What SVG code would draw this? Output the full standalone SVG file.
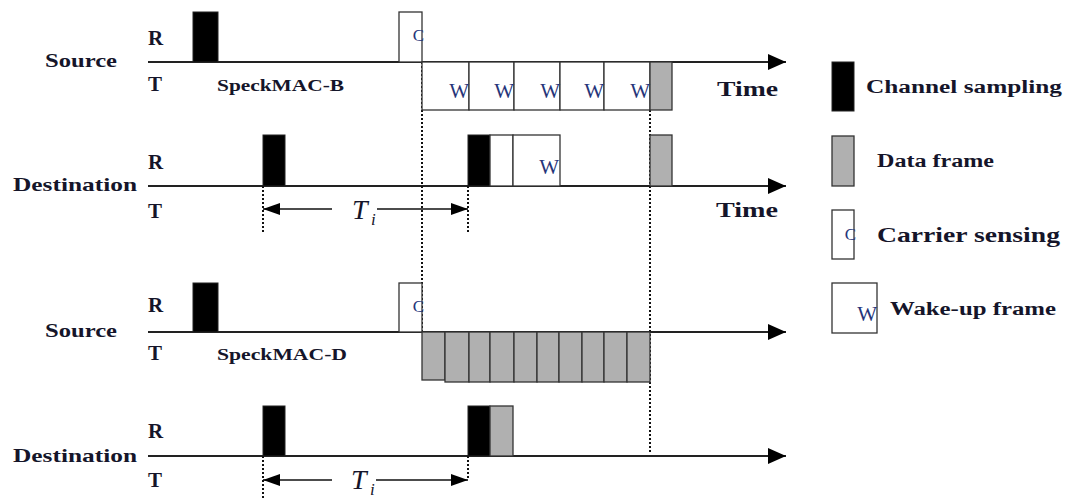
<svg xmlns="http://www.w3.org/2000/svg" width="1070" height="498" viewBox="0 0 1070 498">
<defs>
<style>
.lbl{font-family:"Liberation Serif","DejaVu Serif",serif;font-weight:bold;fill:#15152a}
.side{font-size:19px}
.rt{font-size:21px}
.mac{font-size:16px}
.time{font-size:21px}
.leg{font-size:18px}
.w{font-family:"Liberation Serif","DejaVu Serif",serif;font-size:21px;fill:#26357a;text-anchor:end}
.c{font-family:"Liberation Serif","DejaVu Serif",serif;font-size:17px;fill:#26357a;text-anchor:end}
.ti{font-family:"Liberation Serif","DejaVu Serif",serif;font-style:italic;fill:#15152a}
.axis{stroke:#222;stroke-width:1.8;fill:none}
.blk{fill:#000;stroke:#222;stroke-width:1}
.gry{fill:#b0b0b0;stroke:#333;stroke-width:1.3}
.wht{fill:#fff;stroke:#333;stroke-width:1.3}
.dot{stroke:#111;stroke-width:2;stroke-dasharray:2 2;fill:none}
.dim{stroke:#111;stroke-width:1.5;fill:none}
</style>
<marker id="ax" viewBox="0 0 18 16" refX="18" refY="8" markerWidth="18" markerHeight="16" markerUnits="userSpaceOnUse" orient="auto">
<path d="M0,0 L18,8 L0,16 Z" fill="#000"/>
</marker>
<marker id="dm" viewBox="0 0 17 12" refX="17" refY="6" markerWidth="17" markerHeight="12" markerUnits="userSpaceOnUse" orient="auto">
<path d="M0,0 L17,6 L0,12 Z" fill="#000"/>
</marker>
</defs>
<rect width="1070" height="498" fill="#fff"/>

<g id="connectors">
<line class="axis" x1="148" y1="62" x2="786" y2="62" marker-end="url(#ax)"/>
<line class="axis" x1="148" y1="186" x2="786" y2="186" marker-end="url(#ax)"/>
<line class="axis" x1="148" y1="332" x2="786" y2="332" marker-end="url(#ax)"/>
<line class="axis" x1="148" y1="456" x2="786" y2="456" marker-end="url(#ax)"/>
<line class="dot" x1="422" y1="62" x2="422" y2="332"/>
<line class="dot" x1="650" y1="62" x2="650" y2="454"/>
<line class="dot" x1="263" y1="186" x2="263" y2="233"/>
<line class="dot" x1="468" y1="186" x2="468" y2="233"/>
<line class="dot" x1="263" y1="456" x2="263" y2="498"/>
<line class="dot" x1="468" y1="456" x2="468" y2="479"/>
<line class="dim" x1="332" y1="209" x2="263" y2="209" marker-end="url(#dm)"/>
<line class="dim" x1="377" y1="209" x2="468" y2="209" marker-end="url(#dm)"/>
<line class="dim" x1="332" y1="480" x2="263" y2="480" marker-end="url(#dm)"/>
<line class="dim" x1="376" y1="480" x2="468" y2="480" marker-end="url(#dm)"/>
</g>

<g id="source-b">
<text class="lbl side" x="45" y="67" textLength="72" lengthAdjust="spacingAndGlyphs">Source</text>
<text class="lbl rt" x="148" y="45">R</text>
<text class="lbl rt" x="148" y="91">T</text>
<text class="lbl mac" x="217" y="91" textLength="127" lengthAdjust="spacingAndGlyphs">SpeckMAC-B</text>
<rect class="blk" x="193" y="12" width="25" height="50"/>
<rect class="wht" x="399" y="12" width="23" height="50"/>
<text class="c" x="424" y="41">C</text>
<rect class="wht" x="422" y="62" width="47" height="48"/>
<rect class="wht" x="469" y="62" width="45" height="48"/>
<rect class="wht" x="514" y="62" width="46" height="48"/>
<rect class="wht" x="560" y="62" width="44" height="48"/>
<rect class="wht" x="604" y="62" width="46" height="48"/>
<rect class="gry" x="650" y="62" width="22" height="48"/>
<text class="w" x="469" y="98">W</text>
<text class="w" x="514" y="98">W</text>
<text class="w" x="560" y="98">W</text>
<text class="w" x="604" y="98">W</text>
<text class="w" x="650" y="98">W</text>
<text class="lbl time" x="717" y="96" textLength="61" lengthAdjust="spacingAndGlyphs">Time</text>
</g>

<g id="destination-b">
<text class="lbl side" x="13" y="191" textLength="124" lengthAdjust="spacingAndGlyphs">Destination</text>
<text class="lbl rt" x="148" y="169">R</text>
<text class="lbl rt" x="148" y="218">T</text>
<rect class="blk" x="263" y="135" width="22" height="51"/>
<rect class="blk" x="468" y="135" width="22" height="51"/>
<rect class="wht" x="490" y="135" width="23" height="51"/>
<rect class="wht" x="513" y="135" width="47" height="51"/>
<text class="w" x="559" y="174">W</text>
<rect class="gry" x="650" y="135" width="22" height="51"/>
<text class="ti" x="352" y="219" font-size="28">T</text>
<text class="ti" x="371" y="225" font-size="17">i</text>
<text class="lbl time" x="716" y="217" textLength="62" lengthAdjust="spacingAndGlyphs">Time</text>
</g>

<g id="source-d">
<text class="lbl side" x="45" y="337" textLength="72" lengthAdjust="spacingAndGlyphs">Source</text>
<text class="lbl rt" x="148" y="312">R</text>
<text class="lbl rt" x="148" y="360">T</text>
<text class="lbl mac" x="217" y="360" textLength="130" lengthAdjust="spacingAndGlyphs">SpeckMAC-D</text>
<rect class="blk" x="193" y="283" width="25" height="49"/>
<rect class="wht" x="399" y="283" width="23" height="49"/>
<text class="c" x="424" y="312">C</text>
<rect class="gry" x="422" y="332" width="23" height="48"/>
<rect class="gry" x="445" y="332" width="24" height="50"/>
<rect class="gry" x="469" y="332" width="21" height="50"/>
<rect class="gry" x="490" y="332" width="24" height="50"/>
<rect class="gry" x="514" y="332" width="23" height="50"/>
<rect class="gry" x="537" y="332" width="22" height="50"/>
<rect class="gry" x="559" y="332" width="23" height="50"/>
<rect class="gry" x="582" y="332" width="22" height="50"/>
<rect class="gry" x="604" y="332" width="23" height="50"/>
<rect class="gry" x="627" y="332" width="23" height="50"/>
</g>

<g id="destination-d">
<text class="lbl side" x="13" y="462" textLength="124" lengthAdjust="spacingAndGlyphs">Destination</text>
<text class="lbl rt" x="148" y="438">R</text>
<text class="lbl rt" x="148" y="487">T</text>
<rect class="blk" x="263" y="406" width="22" height="50"/>
<rect class="blk" x="468" y="406" width="22" height="50"/>
<rect class="gry" x="490" y="406" width="23" height="50"/>
<text class="ti" x="351" y="489" font-size="28">T</text>
<text class="ti" x="370" y="495" font-size="17">i</text>
</g>

<g id="legend-channel-sampling">
<rect class="blk" x="832" y="62" width="22" height="49"/>
<text class="lbl leg" x="866" y="93" textLength="196" lengthAdjust="spacingAndGlyphs">Channel sampling</text>
</g>
<g id="legend-data-frame">
<rect class="gry" x="832" y="136" width="22" height="50"/>
<text class="lbl leg" x="877" y="167" textLength="117" lengthAdjust="spacingAndGlyphs">Data frame</text>
</g>
<g id="legend-carrier-sensing">
<rect class="wht" x="832" y="210" width="22" height="49"/>
<text class="c" x="856" y="240">C</text>
<text class="lbl" font-size="21" x="877" y="242" textLength="183" lengthAdjust="spacingAndGlyphs">Carrier sensing</text>
</g>
<g id="legend-wake-up-frame">
<rect class="wht" x="832" y="283" width="45" height="50"/>
<text class="w" x="877" y="321">W</text>
<text class="lbl leg" x="890" y="315" textLength="166" lengthAdjust="spacingAndGlyphs">Wake-up frame</text>
</g>
</svg>
